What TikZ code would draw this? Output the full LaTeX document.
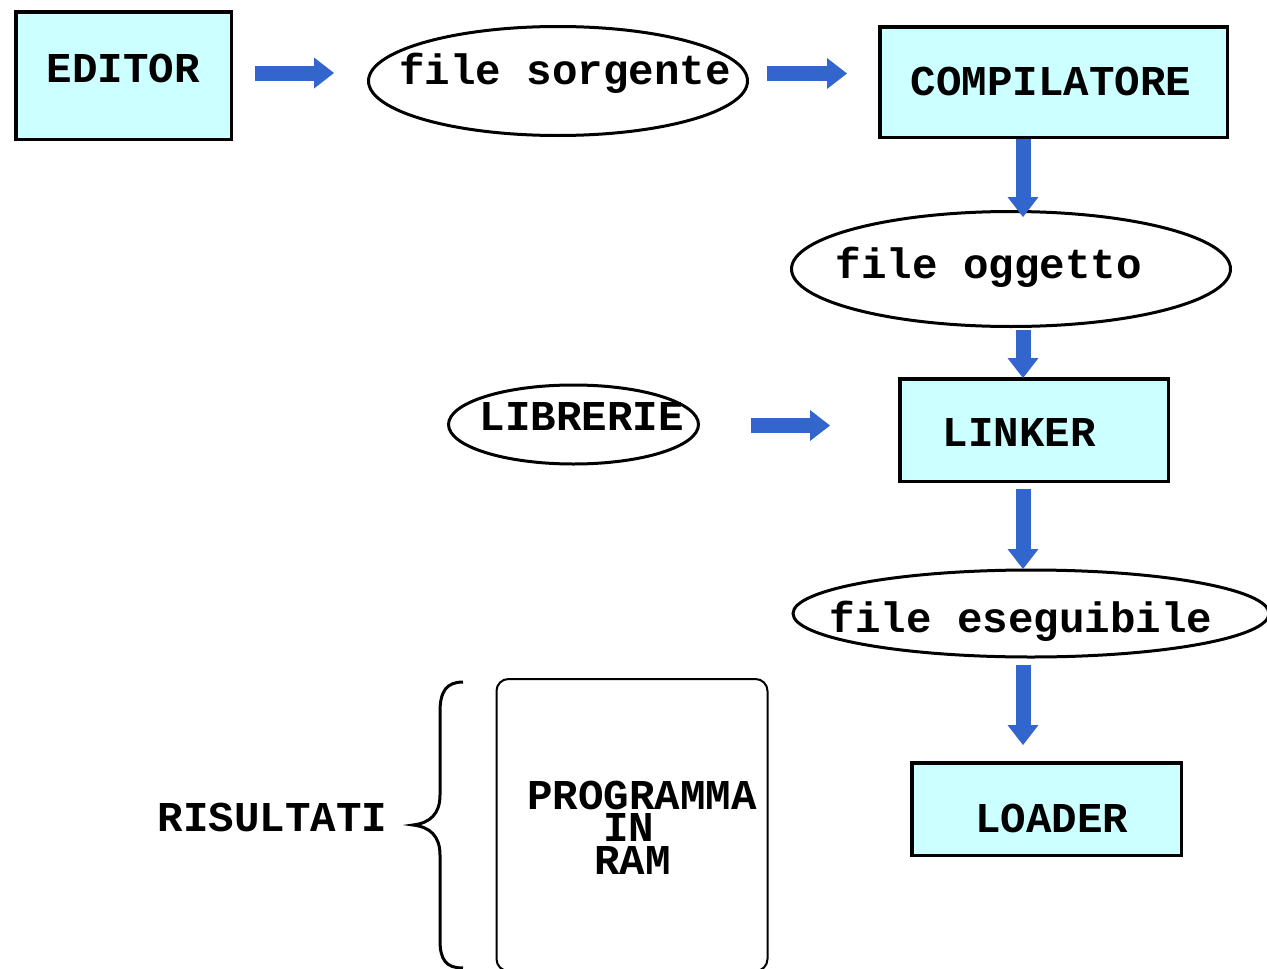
\documentclass[tikz,border=0pt]{standalone}
\usepackage{fontspec}
\setmonofont{Liberation Mono}
\usetikzlibrary{arrows.meta,shapes.geometric}
\definecolor{boxfill}{HTML}{CCFFFF}
\definecolor{arrblue}{HTML}{3366CC}
\begin{document}
\begin{tikzpicture}[x=1pt,y=-1pt,
  lbl/.style={font=\fontsize{42.5}{42.5}\selectfont\ttfamily\bfseries, inner sep=0pt, anchor=base},
  boxnode/.style={draw, line width=3.5pt, fill=boxfill, inner sep=0pt, outer sep=0pt},
  ellnode/.style={ellipse, draw, line width=3pt, inner sep=0pt, outer sep=0pt},
  blockarrow/.style={arrblue, line width=15pt, -{Triangle[width=31pt,length=20pt,line width=0pt]}}]
\useasboundingbox (0,0) rectangle (1267,969);
\fill[white] (0,0) rectangle (1267,969);
\clip (0,0) rectangle (1267,969);

% boxes
\node[boxnode, minimum width=215.5pt, minimum height=127.5pt] (editor) at (123.5,75.5) {};
\node[boxnode, minimum width=347.5pt, minimum height=110.5pt] (compil) at (1053.5,82) {};
\node[boxnode, minimum width=268.5pt, minimum height=102.5pt] (linker) at (1034,430) {};
\node[boxnode, minimum width=269.5pt, minimum height=92.5pt] (loader) at (1046.5,809) {};

% ellipses
\node[ellnode, minimum width=379pt, minimum height=109pt] (src) at (558,81) {};
\node[ellnode, minimum width=439pt, minimum height=115pt] (obj) at (1011,269) {};
\node[ellnode, minimum width=250pt, minimum height=79pt] (lib) at (573.5,424.5) {};
\node[ellnode, minimum width=476pt, minimum height=87pt] (exe) at (1031,613.5) {};

% program in RAM
\node[draw, line width=2pt, rounded corners=12pt, inner sep=0pt, outer sep=0pt,
      minimum width=271pt, minimum height=292pt] (prog) at (632,825) {};

% labels
\node[lbl] (teditor) at (123.5,82) {EDITOR};
\node[lbl] (tcompil) at (1051,95) {COMPILATORE};
\node[lbl] (tlinker) at (1019.5,446) {LINKER};
\node[lbl] (tloader) at (1052,832) {LOADER};
\node[lbl] (tsrc) at (565,84) {file sorgente};
\node[lbl] (tobj) at (989,278) {file oggetto};
\node[lbl] (tlib) at (582,430) {LIBRERIE};
\node[lbl] (texe) at (1021,632) {file eseguibile};
\node[lbl] (tris) at (272.5,831) {RISULTATI};
\node[lbl, font=\fontsize{42.5}{32.5}\selectfont\ttfamily\bfseries, align=left, anchor=base west]
  (tprog) at (527,874) {PROGRAMMA\\\hspace*{76pt}IN\\\hspace*{67pt}RAM};

% arrow end points
\coordinate (a1s) at (255,73);   \coordinate (a1e) at (334,73);
\coordinate (a2s) at (767,73.5); \coordinate (a2e) at (847,73.5);
\coordinate (a3s) at (1023,139); \coordinate (a3e) at (1023,217);
\coordinate (a4s) at (1023,330); \coordinate (a4e) at (1023,378);
\coordinate (a5s) at (751,425.5); \coordinate (a5e) at (830,425.5);
\coordinate (a6s) at (1023,489); \coordinate (a6e) at (1023,569);
\coordinate (a7s) at (1023,665); \coordinate (a7e) at (1023,745);

\draw[blockarrow] (a1s) -- (a1e);
\draw[blockarrow] (a2s) -- (a2e);
\draw[blockarrow] (a3s) -- (a3e);
\draw[blockarrow] (a4s) -- (a4e);
\draw[blockarrow] (a5s) -- (a5e);
\draw[blockarrow] (a6s) -- (a6e);
\draw[blockarrow] (a7s) -- (a7e);

% brace
\draw[line width=3pt] (463,682) .. controls (446,682) and (440,692) .. (440,712)
  -- (440,795) .. controls (440,814) and (430,823) .. (413,825)
  .. controls (430,827) and (440,836) .. (440,855)
  -- (440,940) .. controls (440,960) and (446,968) .. (463,968);
\end{tikzpicture}
\end{document}
